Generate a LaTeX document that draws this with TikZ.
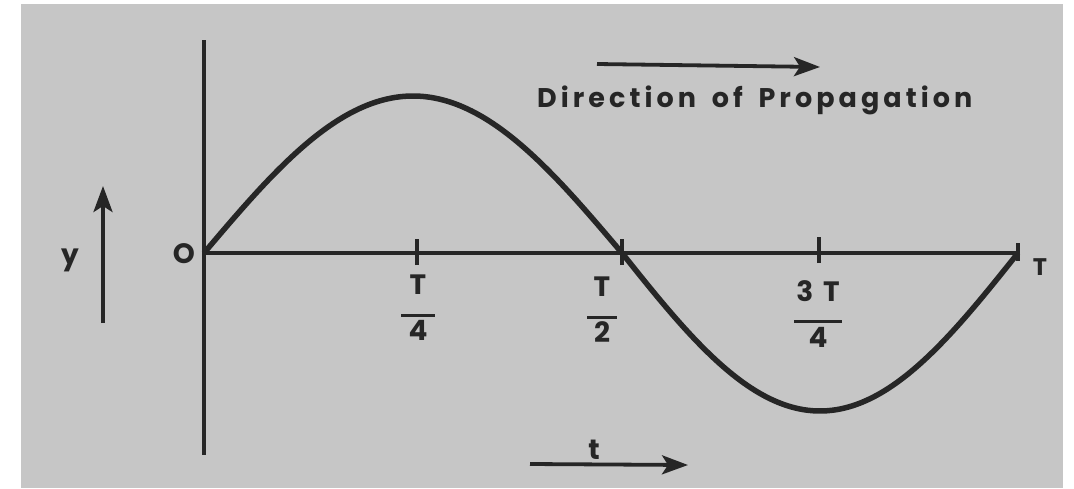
\documentclass[tikz,border=0pt]{standalone}
\usepackage{fontspec}
\setmainfont{Poppins}
\usetikzlibrary{arrows.meta}
\definecolor{paper}{HTML}{C6C6C6}
\definecolor{ink}{HTML}{262626}
\tikzset{
  axis/.style={draw=ink, line width=3.5pt},
  wave/.style={draw=ink, line width=5.5pt, line join=round},
  tick/.style={draw=ink, line width=3.5pt},
  lbl/.style={text=ink, font=\fontsize{28}{30}\selectfont\bfseries, inner sep=0pt},
  arr/.style={draw=ink, line width=3.8pt, -{Stealth[length=26pt,width=19pt,inset=6pt]}},
  frac/.style={text=ink, font=\fontsize{28}{28}\selectfont\bfseries, inner sep=0pt, align=center}
}
\begin{document}
\begin{tikzpicture}[x=1pt,y=-1pt]
\useasboundingbox (0,0) rectangle (1074,488);
\fill[white] (0,0) rectangle (1074,488);
\fill[paper] (21,4) rectangle (1063,488);
% axes
\coordinate (ytop) at (204,40);
\coordinate (ybot) at (204,455);
\coordinate (O) at (204,253);
\coordinate (xend) at (1018,253);
\draw[axis] (ytop) -- (ybot);
\draw[axis] (O) -- (xend);
% ticks
\coordinate (q1) at (417,253);
\coordinate (q2) at (622,253);
\coordinate (q3) at (819,253);
\draw[tick] ([yshift=-12pt]q1) -- ([yshift=14pt]q1);
\draw[tick] ([yshift=-12pt]q2) -- ([yshift=14pt]q2);
\draw[tick] ([yshift=-10pt]q3) -- ([yshift=16pt]q3);
\draw[tick] ([yshift=-8pt]xend) -- ([yshift=10pt]xend);
% wave
\draw[wave] plot[domain=0:180, samples=90, smooth] ({204+\x/180*418}, {253-157*sin(\x)})
  -- plot[domain=180:360, samples=90, smooth] ({622+(\x-180)/180*396}, {253-158*sin(\x)});
% labels
\node[lbl] (lO) at (184,254) {O};
\node[lbl, font=\fontsize{24}{26}\selectfont\bfseries] (lT) at (1040,267) {T};
\node[frac] (f1) at (418,308) {T\\[-6pt]\rule{34pt}{3pt}\\[-4pt]4};
\node[frac] (f2) at (602,310) {T\\[-6pt]\rule{30pt}{3pt}\\[-4pt]2};
\node[frac] (f3) at (818,314) {3\hspace{10pt}T\\[-6pt]\rule{48pt}{3pt}\\[-4pt]4};
% y arrow
\node[lbl] (ly) at (70,260) {y};
\coordinate (ya0) at (103,323);
\coordinate (ya1) at (103,186);
\draw[arr] (ya0) -- (ya1);
% t arrow
\node[lbl] (lt) at (594,450) {t};
\coordinate (ta0) at (530,464);
\coordinate (ta1) at (688,465);
\draw[arr] (ta0) -- (ta1);
% propagation arrow
\coordinate (pa0) at (597,64);
\coordinate (pa1) at (820,67);
\draw[arr] (pa0) -- (pa1);
\node[lbl, font=\fontsize{27}{29}\selectfont\bfseries\addfontfeature{LetterSpace=15}, anchor=west] (dir) at (537,100) {Direction\hspace{6pt} of\hspace{6pt} Propagation};
\end{tikzpicture}
\end{document}
